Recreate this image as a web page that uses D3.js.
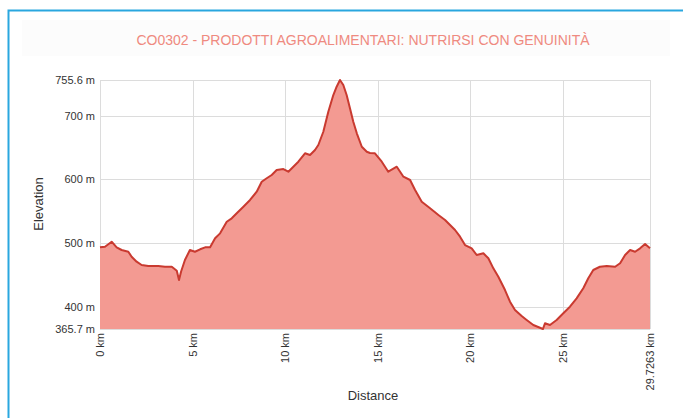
<!DOCTYPE html>
<html>
<head>
<meta charset="utf-8">
<script src="https://cdn.jsdelivr.net/npm/d3@7"></script>
<style>
  body { margin: 0; background: #fff; }
  text { font-family: "Liberation Sans", Arial, sans-serif; }
</style>
</head>
<body>
<script>
//profile data
var title = "CO0302 - PRODOTTI AGROALIMENTARI: NUTRIRSI CON GENUINITÀ";

var distanceKm = [0, 0.27, 0.63, 0.90, 1.17, 1.53, 1.71, 1.98, 2.25, 2.61, 3.15, 3.51, 3.88, 4.15, 4.27, 4.38, 4.59, 4.86,
    5.13, 5.41, 5.68, 5.95, 6.22, 6.49, 6.85, 7.12, 7.39, 7.75, 8.11, 8.47, 8.74, 9.01, 9.28, 9.55, 9.91,
    10.18, 10.45, 10.72, 11.08, 11.35, 11.62, 11.80, 12.07, 12.34, 12.61, 12.79, 12.97, 13.15, 13.33, 13.51, 13.69, 13.88,
    14.15, 14.42, 14.59, 14.86, 15.23, 15.58, 16.04, 16.40, 16.76, 17.03, 17.39, 17.84, 18.29, 18.65, 18.92, 19.19, 19.46, 19.73,
    20.09, 20.36, 20.72, 20.99, 21.26, 21.53, 21.89, 22.16, 22.43, 22.79, 23.06, 23.42, 23.78, 23.94, 24.05, 24.32, 24.68,
    25.04, 25.40, 25.76, 26.12, 26.39, 26.66, 27.02, 27.39, 27.84, 28.11, 28.38, 28.65, 28.92, 29.19, 29.46, 29.7263];

var elevationM = [493.6, 494.6, 502.4, 493.6, 489.4, 486.7, 478.9, 471.1, 465.9, 464.3, 464.3, 463.2, 463.2, 457.0, 442.4, 455.4, 473.7, 489.4,
    486.7, 490.5, 493.6, 493.6, 507.7, 515.5, 533.7, 539.0, 546.9, 557.2, 567.7, 580.7, 596.3, 601.7, 606.8, 614.7, 616.2,
    612.0, 619.8, 627.7, 640.8, 638.1, 646.0, 653.8, 674.6, 706.0, 732.1, 745.1, 755.6, 747.8, 732.1, 711.3, 690.3, 672.1,
    651.1, 643.3, 641.3, 640.8, 627.7, 612.0, 619.8, 604.2, 599.0, 583.3, 565.0, 554.7, 544.2, 536.4, 528.5, 520.7, 510.2, 497.2,
    492.0, 481.6, 484.2, 476.4, 460.7, 447.6, 426.7, 408.4, 395.4, 386.0, 379.8, 371.9, 367.7, 365.7, 374.6, 371.9, 379.8,
    390.3, 400.6, 413.7, 429.4, 445.1, 458.1, 463.2, 464.3, 463.2, 468.6, 481.6, 489.4, 486.7, 492.0, 498.8, 492.0];

var xTicks = [0, 5, 10, 15, 20, 25, 29.7263];
var yTicks = [365.7, 400, 500, 600, 700, 755.6];

var profile = distanceKm.map(function(d, i){
    return { km: d, elev: elevationM[i] };
});

//SVG dimensions
var w = 683,
    h = 418;

var svg = d3.select("body")
    .append("svg")
    .attr("width", w)
    .attr("height", h);

//outer frame
svg.append("rect")
    .attr("x", 8.5)
    .attr("y", 10.5)
    .attr("width", 700)
    .attr("height", 430)
    .style("fill", "#fff")
    .style("stroke", "#2aa7df")
    .style("stroke-width", 2);

//faint title band
svg.append("rect")
    .attr("x", 22)
    .attr("y", 20)
    .attr("width", 648)
    .attr("height", 36)
    .style("fill", "#fcfcfc");

svg.append("text")
    .attr("x", 363)
    .attr("y", 45)
    .attr("text-anchor", "middle")
    .style("font-size", "14px")
    .style("fill", "#ef8a80")
    .text(title);

//scales
var x = d3.scaleLinear()
    .domain([0, 29.7263])
    .range([100, 650]);

var y = d3.scaleLinear()
    .domain([365.7, 755.6])
    .range([329, 80]);

//grid
var grid = svg.append("g").attr("class", "grid");

grid.selectAll(".hline")
    .data(yTicks)
    .enter()
    .append("line")
    .attr("x1", x.range()[0])
    .attr("x2", x.range()[1])
    .attr("y1", function(d){ return Math.round(y(d)) + 0.5; })
    .attr("y2", function(d){ return Math.round(y(d)) + 0.5; })
    .style("stroke", "#dcdcdc");

grid.selectAll(".vline")
    .data(xTicks)
    .enter()
    .append("line")
    .attr("y1", y.range()[0])
    .attr("y2", y.range()[1])
    .attr("x1", function(d){ return Math.round(x(d)) + 0.5; })
    .attr("x2", function(d){ return Math.round(x(d)) + 0.5; })
    .style("stroke", "#dcdcdc");

//area + line
var area = d3.area()
    .x(function(d){ return x(d.km); })
    .y0(y(365.7))
    .y1(function(d){ return y(d.elev); });

var line = d3.line()
    .x(function(d){ return x(d.km); })
    .y(function(d){ return y(d.elev); });

svg.append("path")
    .datum(profile)
    .attr("d", area)
    .style("fill", "#f39a92");

svg.append("path")
    .datum(profile)
    .attr("d", line)
    .style("fill", "none")
    .style("stroke", "#c93a30")
    .style("stroke-width", 2)
    .style("stroke-linejoin", "round");

//y axis labels
var yAxis = d3.axisLeft(y)
    .tickValues(yTicks)
    .tickSize(0)
    .tickPadding(5)
    .tickFormat(function(d){ return d + " m"; });

var yg = svg.append("g")
    .attr("transform", "translate(100,0)")
    .call(yAxis);
yg.select(".domain").remove();
yg.selectAll("text")
    .style("font-family", "Liberation Sans, Arial, sans-serif")
    .style("font-size", "11px")
    .style("fill", "#333");

//x axis labels, rotated
var xAxis = d3.axisBottom(x)
    .tickValues(xTicks)
    .tickSize(0)
    .tickPadding(0)
    .tickFormat(function(d){ return d + " km"; });

var xg = svg.append("g")
    .attr("transform", "translate(0,333)")
    .call(xAxis);
xg.select(".domain").remove();
xg.selectAll("text")
    .attr("transform", "rotate(-90)")
    .attr("text-anchor", "end")
    .attr("x", 0)
    .attr("y", 0)
    .attr("dy", "0.35em")
    .style("font-family", "Liberation Sans, Arial, sans-serif")
    .style("font-size", "11px")
    .style("fill", "#333");

//axis titles
svg.append("text")
    .attr("x", 373)
    .attr("y", 400)
    .attr("text-anchor", "middle")
    .style("font-size", "13px")
    .style("fill", "#333")
    .text("Distance");

svg.append("text")
    .attr("transform", "translate(43,204) rotate(-90)")
    .attr("text-anchor", "middle")
    .style("font-size", "13px")
    .style("fill", "#333")
    .text("Elevation");
</script>
</body>
</html>
